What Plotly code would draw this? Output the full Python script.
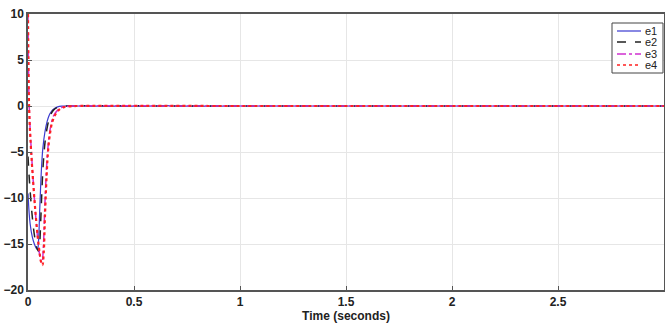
import plotly.graph_objects as go

# Data
t1 = [0, 0.005, 0.01, 0.02, 0.03, 0.04, 0.045, 0.05, 0.055, 0.06, 0.065, 0.07, 0.08, 0.09, 0.1, 0.11, 0.12, 0.14, 0.16, 0.2, 0.6, 0.65, 0.7, 1.0, 3.0]
e1 = [-9.5, -11.5, -12.8, -14.2, -15.0, -15.5, -15.6, -14.5, -11.5, -8.5, -6.2, -4.6, -2.8, -1.7, -1.0, -0.6, -0.35, -0.1, -0.02, 0, 0, 0.05, 0, 0, 0]

t2 = [0, 0.005, 0.01, 0.02, 0.03, 0.04, 0.05, 0.055, 0.06, 0.065, 0.07, 0.075, 0.08, 0.09, 0.1, 0.11, 0.12, 0.14, 0.17, 0.2, 1.0, 3.0]
e2 = [-5.5, -7.5, -9.2, -12.0, -14.0, -15.3, -15.8, -15.0, -12.5, -9.5, -7.0, -5.3, -4.0, -2.4, -1.4, -0.8, -0.45, -0.15, -0.03, 0, 0, 0]

t3 = [0, 0.002, 0.005, 0.01, 0.02, 0.03, 0.04, 0.05, 0.06, 0.066, 0.072, 0.08, 0.09, 0.1, 0.11, 0.12, 0.14, 0.16, 0.19, 0.22, 1.0, 3.0]
e3 = [10, 5, 0.5, -2.5, -6.5, -10.0, -13.0, -15.3, -16.8, -17.0, -15.5, -10.5, -5.8, -3.2, -1.9, -1.1, -0.45, -0.15, -0.03, 0, 0, 0]

t4 = [0, 0.002, 0.004, 0.008, 0.015, 0.025, 0.035, 0.045, 0.055, 0.062, 0.068, 0.074, 0.08, 0.088, 0.095, 0.105, 0.115, 0.13, 0.15, 0.17, 0.2, 0.23, 1.0, 3.0]
e4 = [10, 5, 1, -2, -5, -8.5, -11.5, -14.0, -16.0, -17.0, -17.3, -16.0, -12.0, -7.5, -4.8, -2.8, -1.7, -0.9, -0.35, -0.12, -0.03, 0, 0, 0]

names = ["e1", "e2", "e3", "e4"]
xticks = [0, 0.5, 1, 1.5, 2, 2.5]
xticklabels = ["0", "0.5", "1", "1.5", "2", "2.5"]
yticks = [-20, -15, -10, -5, 0, 5, 10]

styles = [
    dict(color="#3a3ad0", width=1.2, dash="solid"),
    dict(color="#222222", width=1.5, dash="dash"),
    dict(color="#d030d0", width=1.5, dash="dashdot"),
    dict(color="#ff2020", width=2.2, dash="dot"),
]
series = [(t1, e1), (t2, e2), (t3, e3), (t4, e4)]

fig = go.Figure()
for (tx, ey), nm, st in zip(series, names, styles):
    fig.add_trace(go.Scatter(x=tx, y=ey, name=nm, mode="lines",
                             line=dict(st, shape="spline"), showlegend=False))

# compact MATLAB-style legend (Plotly's native legend rows are too tall)
W, H, L, T = 665, 327, 28, 14
PW, PH = W - L - 1, H - T - 37
def px(x): return (x - L) / PW
def py(y): return (T + PH - y) / PH

shapes = [dict(type="rect", xref="paper", yref="paper",
               x0=px(612), x1=px(663), y0=py(73), y1=py(23),
               line=dict(color="#444444", width=1), fillcolor="white", layer="above")]
annotations = []
rows = [31, 42, 54, 65]
for nm, st, ry in zip(names, styles, rows):
    shapes.append(dict(type="line", xref="paper", yref="paper",
                       x0=px(617), x1=px(641), y0=py(ry), y1=py(ry),
                       line=dict(color=st["color"], width=min(st["width"], 1.6), dash=st["dash"]),
                       layer="above"))
    annotations.append(dict(text=nm, xref="paper", yref="paper", x=px(643), y=py(ry),
                            xanchor="left", yanchor="middle", showarrow=False,
                            font=dict(family="Liberation Sans, Arial", size=11, color="#222222")))

axis_font = dict(family="Liberation Sans Narrow, Arial Narrow, Liberation Sans, Arial", size=12, color="#222222")

fig.update_layout(
    width=W, height=H,
    margin=dict(l=L, r=1, t=T, b=37, autoexpand=False),
    paper_bgcolor="white", plot_bgcolor="white",
    showlegend=False,
    shapes=shapes, annotations=annotations,
    xaxis=dict(range=[0, 3], tickvals=xticks, ticktext=xticklabels, automargin=False,
               showgrid=True, gridcolor="#e6e6e6", gridwidth=1,
               ticks="inside", ticklen=4, tickcolor="#555555",
               showline=True, linecolor="#555555", linewidth=1.5, mirror=True,
               zeroline=False, tickfont=dict(axis_font, weight="bold"),
               title=dict(text="Time (seconds)", font=dict(axis_font, weight="bold"), standoff=2)),
    yaxis=dict(range=[-20, 10], tickvals=yticks, automargin=False,
               showgrid=True, gridcolor="#e6e6e6", gridwidth=1,
               ticks="inside", ticklen=4, tickcolor="#555555",
               showline=True, linecolor="#555555", linewidth=1.5, mirror=True,
               zeroline=False, tickfont=dict(axis_font, weight="bold")),
)

fig.write_html("out.html", config={"displayModeBar": False},
               post_script="document.body.style.margin='0';document.body.style.padding='0';document.body.style.overflow='hidden';")
